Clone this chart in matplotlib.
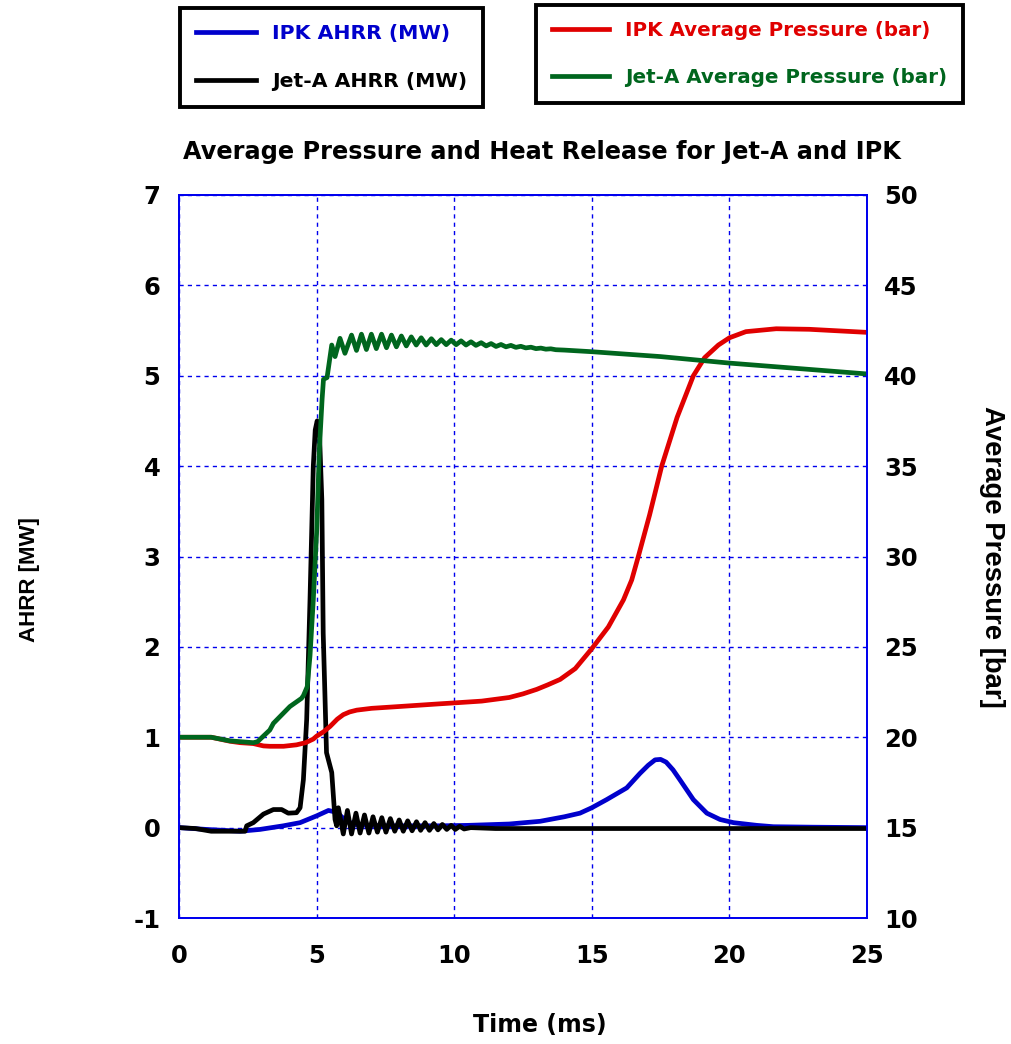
import matplotlib
matplotlib.use("Agg")
import matplotlib.pyplot as plt

plt.rcParams['font.family'] = ['DejaVu Sans']
plt.rcParams['font.weight'] = 'bold'

# ---------------- data ----------------
# IPK AHRR (MW)
ipk_ahrr_t = [0.0, 1.0, 2.22, 2.94, 3.79, 4.4, 5.0, 5.43, 5.73, 6.09, 6.46, 7.5, 9.48, 10.5, 12.0,
              13.12, 14.0, 14.57, 15.0, 15.54, 16.27, 16.75, 17.05, 17.3, 17.5, 17.7, 17.95, 18.2, 18.69,
              19.18, 19.66, 20.15, 21.0, 21.6, 23.0, 25.0]
ipk_ahrr_v = [0.0, -0.02, -0.04, -0.02, 0.02, 0.055, 0.13, 0.19, 0.17, 0.07, 0.03, 0.02, 0.02, 0.025, 0.04,
              0.07, 0.12, 0.16, 0.22, 0.31, 0.44, 0.6, 0.69, 0.75, 0.755, 0.725, 0.64, 0.53, 0.31,
              0.16, 0.09, 0.055, 0.025, 0.01, 0.005, 0.0]

# Jet-A AHRR (MW)
jet_ahrr_t = [0.0, 0.6, 1.17, 2.4, 2.46, 2.7, 3.07, 3.43, 3.73, 3.97, 4.27, 4.4, 4.52, 4.64, 4.76,
              4.88, 4.95, 5.02, 5.1, 5.19, 5.24, 5.3, 5.36, 5.55, 5.67, 5.73,
              5.79, 5.97, 6.12, 6.27, 6.43, 6.58, 6.74, 6.90, 7.05, 7.21, 7.37, 7.52, 7.68, 7.84,
              8.00, 8.15, 8.31, 8.47, 8.63, 8.78, 8.94, 9.10, 9.26, 9.41, 9.57, 9.73, 9.89, 10.04,
              10.20, 10.36, 10.6, 11.5, 15.0, 20.0, 25.0]
jet_ahrr_v = [0.0, -0.01, -0.04, -0.04, 0.02, 0.055, 0.15, 0.2, 0.2, 0.16, 0.165, 0.22, 0.53, 1.2, 2.52,
              4.0, 4.4, 4.5, 4.4, 3.63, 2.15, 1.5, 0.83, 0.61, 0.09, 0.02,
              0.22, -0.07, 0.19, -0.07, 0.16, -0.06, 0.14, -0.06, 0.12, -0.05, 0.11, -0.05, 0.10, -0.04,
              0.085, -0.04, 0.075, -0.035, 0.065, -0.03, 0.055, -0.03, 0.045, -0.025, 0.035, -0.02, 0.025, -0.02,
              0.015, -0.015, 0.0, -0.01, -0.01, -0.01, -0.01]

# IPK Average Pressure (bar)
ipk_p_t = [0.0, 1.17, 1.85, 2.22, 2.7, 3.07, 3.3, 3.8, 4.27, 4.6, 4.88, 5.0, 5.25, 5.49, 5.75, 5.97, 6.2,
           6.46, 7.0, 8.0, 9.48, 10.0, 11.0, 12.0, 12.5, 13.0, 13.4, 13.85, 14.4, 15.0, 15.6, 16.15, 16.45,
           16.69, 17.1, 17.54, 18.1, 18.69, 19.1, 19.6, 20.0, 20.6, 21.7, 22.9, 25.0]
ipk_p_v = [20.0, 20.0, 19.78, 19.7, 19.65, 19.52, 19.5, 19.5, 19.58, 19.7, 19.9, 20.06, 20.3, 20.6, 21.0, 21.25,
           21.4, 21.5, 21.6, 21.7, 21.85, 21.9, 22.0, 22.2, 22.4, 22.65, 22.9, 23.2, 23.8, 24.9, 26.1, 27.6, 28.7,
           30.0, 32.3, 35.0, 37.7, 40.0, 41.0, 41.7, 42.1, 42.44, 42.6, 42.57, 42.4]

# Jet-A Average Pressure (bar)
jet_p_t = [0.0, 1.17, 1.85, 2.7, 2.85, 3.3, 3.43, 4.03, 4.45, 4.52, 4.66, 4.76, 4.88, 5.0, 5.1, 5.2,
           5.25, 5.38, 5.55, 5.67, 5.85, 6.03,
           6.27, 6.45, 6.63, 6.81, 6.99, 7.17, 7.36, 7.54, 7.72, 7.90, 8.08, 8.26, 8.44, 8.62,
           8.80, 8.98, 9.17, 9.35, 9.53, 9.71, 9.89, 10.07, 10.25, 10.43, 10.61, 10.79, 10.98, 11.16,
           11.34, 11.52, 11.70, 11.88, 12.06, 12.24, 12.42, 12.60, 12.79, 12.97, 13.15, 13.33, 13.51, 13.69,
           14.0, 15.0, 17.5, 20.0, 22.5, 25.0]
jet_p_v = [20.0, 20.0, 19.8, 19.7, 19.75, 20.4, 20.77, 21.7, 22.15, 22.3, 22.8, 24.5, 27.6, 31.3, 35.9, 38.7,
           39.8, 39.9, 41.7, 41.06, 42.07, 41.24,
           42.25, 41.4, 42.3, 41.45, 42.3, 41.5, 42.3, 41.55, 42.25, 41.6, 42.2, 41.65, 42.15, 41.7,
           42.1, 41.7, 42.05, 41.72, 42.0, 41.72, 41.97, 41.72, 41.93, 41.7, 41.88, 41.68, 41.83, 41.65,
           41.78, 41.62, 41.73, 41.6, 41.68, 41.57, 41.63, 41.54, 41.58, 41.5, 41.53, 41.47, 41.49, 41.44,
           41.42, 41.33, 41.06, 40.7, 40.4, 40.1]

x_ticks = [0, 5, 10, 15, 20, 25]
left_ticks = [-1, 0, 1, 2, 3, 4, 5, 6, 7]
right_ticks = [10, 15, 20, 25, 30, 35, 40, 45, 50]

# ---------------- styling ----------------
C_BLUE = '#0000CC'
C_BLACK = '#000000'
C_RED = '#E00000'
C_GREEN = '#00661E'
GRID_BLUE = '#0000EE'
LW = 3.4

fig = plt.figure(figsize=(10.12, 10.44), dpi=100)
ax = fig.add_axes([179/1012, 1 - 918/1044, (867-179)/1012, (918-195)/1044])
ax2 = ax.twinx()

l1, = ax.plot(ipk_ahrr_t, ipk_ahrr_v, color=C_BLUE, lw=LW, label='IPK AHRR (MW)', solid_joinstyle='round')
l2, = ax.plot(jet_ahrr_t, jet_ahrr_v, color=C_BLACK, lw=LW, label='Jet-A AHRR (MW)', solid_joinstyle='round')
l3, = ax2.plot(ipk_p_t, ipk_p_v, color=C_RED, lw=LW, label='IPK Average Pressure (bar)', solid_joinstyle='round')
l4, = ax2.plot(jet_p_t, jet_p_v, color=C_GREEN, lw=LW, label='Jet-A Average Pressure (bar)', solid_joinstyle='round')

ax.set_xlim(0, 25)
ax.set_ylim(-1, 7)
ax2.set_ylim(10, 50)
ax.set_xticks(x_ticks)
ax.set_yticks(left_ticks)
ax2.set_yticks(right_ticks)
ax.set_xticklabels([str(v) for v in x_ticks])
ax.set_yticklabels([str(v) for v in left_ticks])
ax2.set_yticklabels([str(v) for v in right_ticks])

for a in (ax, ax2):
    a.tick_params(axis='both', length=0, labelsize=17.5)
    for s in a.spines.values():
        s.set_color(GRID_BLUE)
        s.set_linewidth(1.3)
ax.tick_params(axis='x', pad=19)
ax.tick_params(axis='y', pad=13.5)
ax2.tick_params(axis='y', pad=12.5)
for lab in ax.get_xticklabels() + ax.get_yticklabels() + ax2.get_yticklabels():
    lab.set_fontweight('bold')

ax.grid(True, color=GRID_BLUE, linestyle=(0, (3, 3)), linewidth=1.0)
ax.set_axisbelow(True)

fig.text(542/1012, 1 - 152/1044, 'Average Pressure and Heat Release for Jet-A and IPK',
         ha='center', va='center', fontsize=17.3, fontweight='bold')
fig.text(540/1012, 1 - 1025/1044, 'Time (ms)', ha='center', va='center', fontsize=17, fontweight='bold')
fig.text(30/1012, 1 - 580/1044, 'AHRR [MW]', ha='center', va='center', rotation=90,
         fontsize=16, fontweight='bold', family='Liberation Sans')
fig.text(992/1012, 1 - 557/1044, 'Average Pressure [bar]', ha='center', va='center', rotation=-90,
         fontsize=19.8, fontweight='bold', family='Liberation Sans')

leg_kw = dict(loc='upper left', frameon=True, fancybox=False, edgecolor='black', framealpha=1,
              labelcolor='linecolor', handlelength=2.9,
              handletextpad=0.8, labelspacing=1.4, borderpad=0.8, borderaxespad=0)
leg1 = fig.legend(handles=[l1, l2], bbox_to_anchor=(180/1012, 1 - 8/1044),
                  prop={'weight': 'bold', 'size': 14.7}, **leg_kw)
leg1.get_frame().set_linewidth(2.8)
leg2 = fig.legend(handles=[l3, l4], bbox_to_anchor=(536/1012, 1 - 5/1044),
                  prop={'weight': 'bold', 'size': 14.3}, **leg_kw)
leg2.get_frame().set_linewidth(2.8)

fig.savefig('out.png', dpi=100)
